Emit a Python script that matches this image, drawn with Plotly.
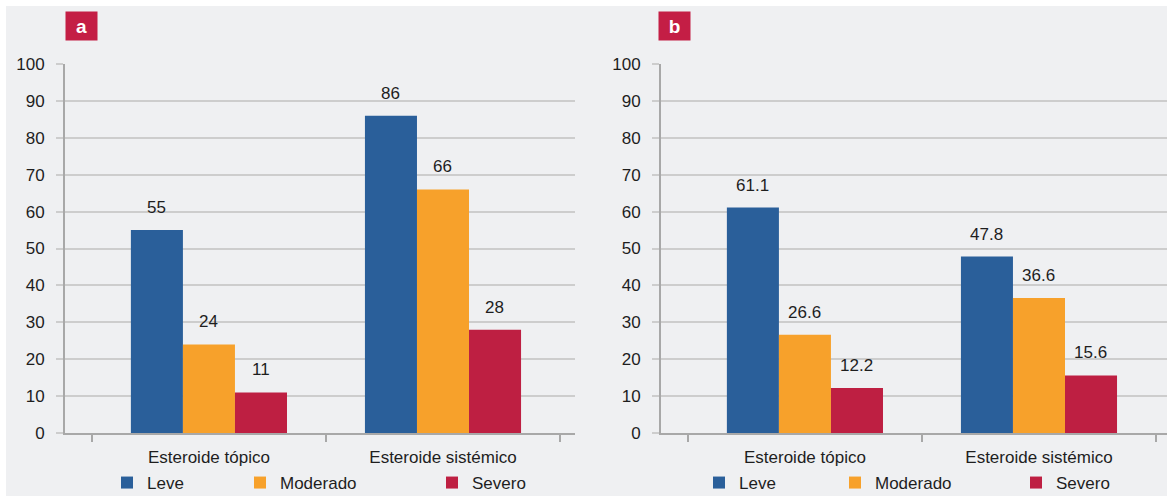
import plotly.graph_objects as go

categories = ["Esteroide tópico", "Esteroide sistémico"]
series_names = ["Leve", "Moderado", "Severo"]
panel_a_values = {"Leve": [55, 86], "Moderado": [24, 66], "Severo": [11, 28]}
panel_b_values = {"Leve": [61.1, 47.8], "Moderado": [26.6, 36.6], "Severo": [12.2, 15.6]}
panel_a_labels = {"Leve": ["55", "86"], "Moderado": ["24", "66"], "Severo": ["11", "28"]}
panel_b_labels = {"Leve": ["61.1", "47.8"], "Moderado": ["26.6", "36.6"], "Severo": ["12.2", "15.6"]}
y_ticks = [0, 10, 20, 30, 40, 50, 60, 70, 80, 90, 100]

colors = {"Leve": "#2a5f9a", "Moderado": "#f7a12b", "Severo": "#be1f42"}
BG = "#eff0f2"
W, H = 1167, 496
FONT = "Liberation Sans, Arial, sans-serif"
TXT = "#1e1e1e"

def px_x(p):
    return p / W

def px_y(p):
    return 1 - p / H

fig = go.Figure()

# legend square left positions (px) for each panel
legend_pos = {
    "a": {"Leve": 122, "Moderado": 255, "Severo": 447},
    "b": {"Leve": 714, "Moderado": 850, "Severo": 1031},
}

legend_idx = 0
layout_legends = {}
for panel, values, xa, ya in [("a", panel_a_values, "x", "y"), ("b", panel_b_values, "x2", "y2")]:
    for name in series_names:
        legend_idx += 1
        lname = "legend" if legend_idx == 1 else f"legend{legend_idx}"
        fig.add_trace(go.Bar(
            x=categories, y=values[name], name=name,
            marker=dict(color=colors[name], line=dict(width=0)),
            xaxis=xa, yaxis=ya, legend=lname,
            hoverinfo="x+y+name",
        ))
        layout_legends[lname] = dict(
            xref="container", yref="container",
            x=px_x(legend_pos[panel][name] - 15), xanchor="left",
            y=px_y(483), yanchor="middle",
            bgcolor="rgba(0,0,0,0)", borderwidth=0,
            font=dict(family=FONT, size=17, color=TXT),
            orientation="h",
        )

fig.update_layout(**layout_legends)

bar_px = 52
annotations = []
for panel, labels, values, xa, ya in [("a", panel_a_labels, panel_a_values, "x", "y"),
                                      ("b", panel_b_labels, panel_b_values, "x2", "y2")]:
    for i, name in enumerate(series_names):
        for c, cat in enumerate(categories):
            annotations.append(dict(
                x=cat, y=values[name][c], xref=xa, yref=ya,
                text=labels[name][c], showarrow=False,
                xshift=(i - 1) * bar_px, yshift=11,
                yanchor="bottom", xanchor="center",
                font=dict(family=FONT, size=17, color=TXT),
            ))

# panel letters
for letter, xp in [("a", 65), ("b", 658)]:
    annotations.append(dict(
        x=px_x(xp), y=px_y(11), xref="paper", yref="paper",
        xanchor="left", yanchor="top", text=f"<b>{letter}</b>",
        showarrow=False, bgcolor="#c41e45", width=29, height=26,
        borderpad=1, font=dict(family=FONT, size=19, color="white"),
    ))

shapes = [
    dict(type="rect", xref="paper", yref="paper", x0=-0.1, x1=1.1, y0=px_y(6), y1=1.3,
         fillcolor="white", line=dict(width=0), layer="above"),
    dict(type="rect", xref="paper", yref="paper", x0=-0.1, x1=px_x(6), y0=-0.3, y1=1.3,
         fillcolor="white", line=dict(width=0), layer="above"),
]

yaxis_common = dict(
    range=[0, 100], tickvals=y_ticks, showgrid=True, gridcolor="#cdcdcd", gridwidth=2,
    showline=True, linecolor="#a8a8a8", linewidth=2, ticks="outside", ticklen=7,
    tickcolor="#cdcdcd", tickwidth=2,
    tickfont=dict(family=FONT, size=17, color=TXT), zeroline=False,
    domain=[px_y(433), px_y(64)], ticklabelstandoff=8, fixedrange=True,
    automargin=False,
)
xaxis_common = dict(
    type="category", showline=True, linecolor="#a8a8a8", linewidth=2,
    ticks="outside", ticklen=7, tickcolor="#a8a8a8", tickwidth=2, tickson="boundaries",
    tickfont=dict(family=FONT, size=17, color=TXT), showgrid=False, fixedrange=True,
    ticklabelstandoff=8, automargin=False,
)

fig.update_layout(
    width=W, height=H,
    margin=dict(l=0, r=0, t=0, b=0, autoexpand=False),
    paper_bgcolor=BG, plot_bgcolor=BG,
    barmode="group", bargap=0.333, bargroupgap=0,
    showlegend=True,
    xaxis=dict(**xaxis_common, domain=[px_x(65), px_x(575)], range=[-0.615, 1.564], anchor="y"),
    yaxis=dict(**yaxis_common, anchor="x"),
    xaxis2=dict(**xaxis_common, domain=[px_x(661), 1.0], range=[-0.615, 1.547], anchor="y2"),
    yaxis2=dict(**yaxis_common, anchor="x2"),
    annotations=annotations,
    shapes=shapes,
    font=dict(family=FONT, color=TXT),
)

fig.write_html("out.html", config={"displayModeBar": False},
               post_script="document.body.style.margin='0';")
